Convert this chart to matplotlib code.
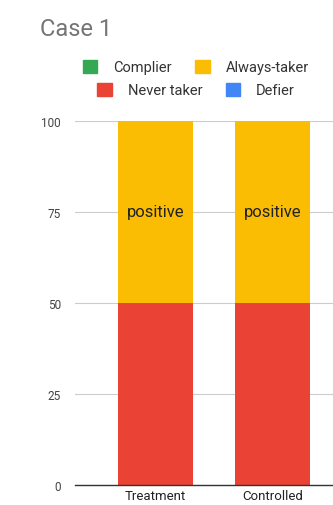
import matplotlib.pyplot as plt
import matplotlib.patches as mpatches
import numpy as np

plt.rcParams['font.family'] = ['Roboto', 'DejaVu Sans']

categories = ['Treatment', 'Controlled']
never_taker = [50, 50]
always_taker = [50, 50]
complier = [0, 0]
defier = [0, 0]
bar_labels = ['positive', 'positive']
yticks = [0, 25, 50, 75, 100]

colors = {
    'Complier': '#34a853',
    'Always-taker': '#fbbc04',
    'Never taker': '#ea4335',
    'Defier': '#4285f4',
}

fig = plt.figure(figsize=(3.33, 5.06), dpi=100)
ax = fig.add_axes([75 / 333, 20 / 506, 1 - 75 / 333, 364 / 506])

x = np.arange(len(categories))
w = 0.64
ax.bar(x, never_taker, w, color=colors['Never taker'], zorder=3)
ax.bar(x, always_taker, w, bottom=never_taker, color=colors['Always-taker'], zorder=3)
bottom2 = np.array(never_taker) + np.array(always_taker)
ax.bar(x, complier, w, bottom=bottom2, color=colors['Complier'], zorder=3)
ax.bar(x, defier, w, bottom=bottom2 + np.array(complier), color=colors['Defier'], zorder=3)

for xi, lab, nt, at in zip(x, bar_labels, never_taker, always_taker):
    ax.text(xi, nt + at / 2, lab, ha='center', va='center', fontsize=12, color='#222222', zorder=4)

ax.set_xlim(-0.688, 1.517)
ax.set_ylim(0, 100)
ax.set_yticks(yticks)
ax.set_yticklabels([str(v) for v in yticks], fontsize=8.5, color='#444444')
ax.set_xticks(x)
ax.set_xticklabels(categories, fontsize=9.5, color='#222222')
ax.tick_params(axis='y', length=0, pad=10)
ax.tick_params(axis='x', length=0, pad=3)
ax.grid(axis='y', color='#cccccc', linewidth=0.8, zorder=0)
for s in ['top', 'right', 'left']:
    ax.spines[s].set_visible(False)
ax.spines['bottom'].set_color('#333333')
ax.spines['bottom'].set_linewidth(1)
ax.spines['bottom'].set_zorder(5)

fig.text(40 / 333, 1 - 30 / 506, 'Case 1', fontsize=17, color='#757575', va='center', ha='left')

row1 = [mpatches.Patch(color=colors['Complier'], label='Complier'),
        mpatches.Patch(color=colors['Always-taker'], label='Always-taker')]
row2 = [mpatches.Patch(color=colors['Never taker'], label='Never taker'),
        mpatches.Patch(color=colors['Defier'], label='Defier')]
for handles, yy in [(row1, 68), (row2, 91)]:
    fig.legend(handles=handles, loc='center', bbox_to_anchor=(196 / 333, 1 - yy / 506),
               ncol=2, frameon=False, fontsize=10.5, handlelength=1.0, handleheight=1.0,
               handletextpad=1.1, columnspacing=1.6, labelcolor='#333333')

fig.savefig('out.png', dpi=100)
